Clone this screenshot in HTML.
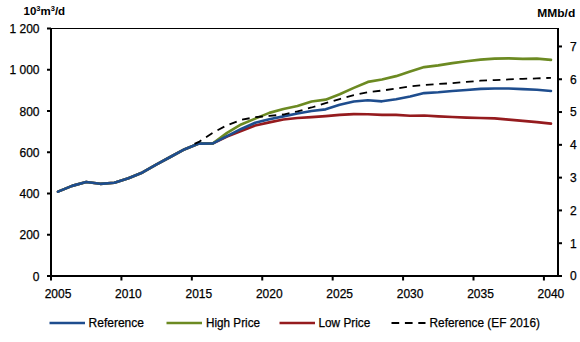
<!DOCTYPE html>
<html><head><meta charset="utf-8"><style>
html,body{margin:0;padding:0;background:#fff;}
body{width:580px;height:342px;overflow:hidden;}
svg{display:block;}
text{font-family:"Liberation Sans",sans-serif;font-size:12px;fill:#000;stroke:#000;stroke-width:0.25px;}
</style></head><body>
<svg width="580" height="342" viewBox="0 0 580 342">
<rect width="580" height="342" fill="#fff"/>
<path d="M58.04,191.64 L72.12,185.87 L86.21,181.95 L100.29,183.81 L114.38,182.78 L128.46,178.24 L142.54,172.46 L156.62,164.42 L170.71,156.79 L184.79,149.16 L198.88,143.59 L212.96,143.38 L227.04,136.58 L241.12,131.01 L255.21,125.44 L269.29,122.34 L283.38,119.46 L297.46,118.01 L311.54,117.19 L325.62,116.16 L339.71,114.92 L353.79,114.09 L367.88,114.30 L381.96,114.92 L396.04,114.92 L410.12,115.74 L424.21,115.54 L438.29,116.36 L452.38,116.98 L466.46,117.60 L480.54,118.01 L494.62,118.43 L508.71,119.66 L522.79,120.90 L536.88,122.14 L550.96,123.58" fill="none" stroke="#951B1E" stroke-width="2.65" stroke-linejoin="round" stroke-linecap="round"/>
<path d="M58.04,191.64 L72.12,185.87 L86.21,181.95 L100.29,183.81 L114.38,182.78 L128.46,178.24 L142.54,172.46 L156.62,164.42 L170.71,156.79 L184.79,149.16 L198.88,143.59 L212.96,143.38 L227.04,132.86 L241.12,124.41 L255.21,118.63 L269.29,112.86 L283.38,108.94 L297.46,106.05 L311.54,101.51 L325.62,99.66 L339.71,94.29 L353.79,87.90 L367.88,81.92 L381.96,79.44 L396.04,76.14 L410.12,71.40 L424.21,67.07 L438.29,65.42 L452.38,63.15 L466.46,61.29 L480.54,59.64 L494.62,58.61 L508.71,58.41 L522.79,58.82 L536.88,58.61 L550.96,59.85" fill="none" stroke="#6C8A22" stroke-width="2.65" stroke-linejoin="round" stroke-linecap="round"/>
<path d="M58.04,191.64 L72.12,185.87 L86.21,181.95 L100.29,183.81 L114.38,182.78 L128.46,178.24 L142.54,172.46 L156.62,164.42 L170.71,156.79 L184.79,149.16 L198.88,143.59 L212.96,143.38 L227.04,136.16 L241.12,128.94 L255.21,122.76 L269.29,119.25 L283.38,116.36 L297.46,113.48 L311.54,111.00 L325.62,109.35 L339.71,104.81 L353.79,101.51 L367.88,100.28 L381.96,101.31 L396.04,99.24 L410.12,96.56 L424.21,93.06 L438.29,92.23 L452.38,90.99 L466.46,89.96 L480.54,88.93 L494.62,88.52 L508.71,88.52 L522.79,89.14 L536.88,89.76 L550.96,90.99" fill="none" stroke="#1E4D8E" stroke-width="2.65" stroke-linejoin="round" stroke-linecap="round"/>
<path d="M194.51,143.90 L198.88,141.94 L212.96,132.66 L227.04,125.23 L241.12,119.87 L255.21,117.19 L269.29,115.95 L283.38,114.51 L297.46,111.41 L311.54,107.49 L325.62,103.16 L339.71,99.04 L353.79,95.12 L367.88,92.23 L381.96,90.58 L396.04,88.52 L410.12,86.46 L424.21,85.01 L438.29,83.98 L452.38,83.16 L466.46,81.92 L480.54,80.68 L494.62,80.06 L508.71,79.44 L522.79,78.83 L536.88,78.41 L550.96,77.79" fill="none" stroke="#000" stroke-width="1.8" stroke-dasharray="7.7 5.7"/>
<rect x="50.0" y="28.0" width="2" height="249.0" fill="#000"/>
<rect x="557.0" y="28.0" width="2" height="249.0" fill="#000"/>
<rect x="51.0" y="28.0" width="507.0" height="1" fill="#000"/>
<rect x="50.0" y="275.0" width="509.0" height="2" fill="#000"/>
<rect x="47.0" y="275.0" width="4" height="2" fill="#000"/>
<rect x="47.0" y="233.75" width="4" height="2" fill="#000"/>
<rect x="47.0" y="192.5" width="4" height="2" fill="#000"/>
<rect x="47.0" y="151.25" width="4" height="2" fill="#000"/>
<rect x="47.0" y="110.0" width="4" height="2" fill="#000"/>
<rect x="47.0" y="68.75" width="4" height="2" fill="#000"/>
<rect x="47.0" y="27.5" width="4" height="2" fill="#000"/>
<rect x="558.0" y="275.0" width="4" height="2" fill="#000"/>
<rect x="558.0" y="242.20893125" width="4" height="2" fill="#000"/>
<rect x="558.0" y="209.4178625" width="4" height="2" fill="#000"/>
<rect x="558.0" y="176.62679375" width="4" height="2" fill="#000"/>
<rect x="558.0" y="143.83572500000002" width="4" height="2" fill="#000"/>
<rect x="558.0" y="111.04465625000003" width="4" height="2" fill="#000"/>
<rect x="558.0" y="78.25358750000001" width="4" height="2" fill="#000"/>
<rect x="558.0" y="45.462518750000044" width="4" height="2" fill="#000"/>
<rect x="50.0" y="276.0" width="2" height="4.5" fill="#000"/>
<rect x="120.41666666666667" y="276.0" width="2" height="4.5" fill="#000"/>
<rect x="190.83333333333334" y="276.0" width="2" height="4.5" fill="#000"/>
<rect x="261.25" y="276.0" width="2" height="4.5" fill="#000"/>
<rect x="331.6666666666667" y="276.0" width="2" height="4.5" fill="#000"/>
<rect x="402.08333333333337" y="276.0" width="2" height="4.5" fill="#000"/>
<rect x="472.5" y="276.0" width="2" height="4.5" fill="#000"/>
<rect x="542.9166666666667" y="276.0" width="2" height="4.5" fill="#000"/>
<line x1="49.5" y1="323" x2="85" y2="323" stroke="#1E4D8E" stroke-width="2.65"/>
<line x1="166.5" y1="323" x2="202" y2="323" stroke="#6C8A22" stroke-width="2.65"/>
<line x1="279.5" y1="323" x2="315" y2="323" stroke="#951B1E" stroke-width="2.65"/>
<line x1="391.5" y1="323" x2="425.5" y2="323" stroke="#000" stroke-width="1.8" stroke-dasharray="7.7 5.7"/>
<text x="39.5" y="280.55" text-anchor="end">0</text>
<text x="39.5" y="239.30" text-anchor="end">200</text>
<text x="39.5" y="198.05" text-anchor="end">400</text>
<text x="39.5" y="156.80" text-anchor="end">600</text>
<text x="39.5" y="115.55" text-anchor="end">800</text>
<text x="39.5" y="74.30" text-anchor="end">1 000</text>
<text x="39.5" y="33.05" text-anchor="end">1 200</text>
<text x="570" y="280.30">0</text>
<text x="570" y="247.51">1</text>
<text x="570" y="214.72">2</text>
<text x="570" y="181.93">3</text>
<text x="570" y="149.14">4</text>
<text x="570" y="116.34">5</text>
<text x="570" y="83.55">6</text>
<text x="570" y="50.76">7</text>
<text x="58.04" y="298.2" text-anchor="middle">2005</text>
<text x="128.46" y="298.2" text-anchor="middle">2010</text>
<text x="198.88" y="298.2" text-anchor="middle">2015</text>
<text x="269.29" y="298.2" text-anchor="middle">2020</text>
<text x="339.71" y="298.2" text-anchor="middle">2025</text>
<text x="410.12" y="298.2" text-anchor="middle">2030</text>
<text x="480.54" y="298.2" text-anchor="middle">2035</text>
<text x="550.96" y="298.2" text-anchor="middle">2040</text>
<text x="88.6" y="327">Reference</text>
<text x="206" y="327" textLength="54" lengthAdjust="spacingAndGlyphs">High Price</text>
<text x="318.5" y="327" textLength="51.8" lengthAdjust="spacingAndGlyphs">Low Price</text>
<text x="429.6" y="327" textLength="110.3" lengthAdjust="spacingAndGlyphs">Reference (EF 2016)</text>
<text x="23.5" y="14.8" style="font-weight:bold;font-size:11.5px;stroke-width:0">10<tspan style="font-size:7.5px" dy="-3.6">3</tspan><tspan dy="3.6">m</tspan><tspan style="font-size:7.5px" dy="-3.6">3</tspan><tspan dy="3.6">/d</tspan></text>
<text x="537.3" y="16.7" style="font-weight:bold;font-size:11px;stroke-width:0" textLength="38" lengthAdjust="spacingAndGlyphs">MMb/d</text>
</svg>
</body></html>
